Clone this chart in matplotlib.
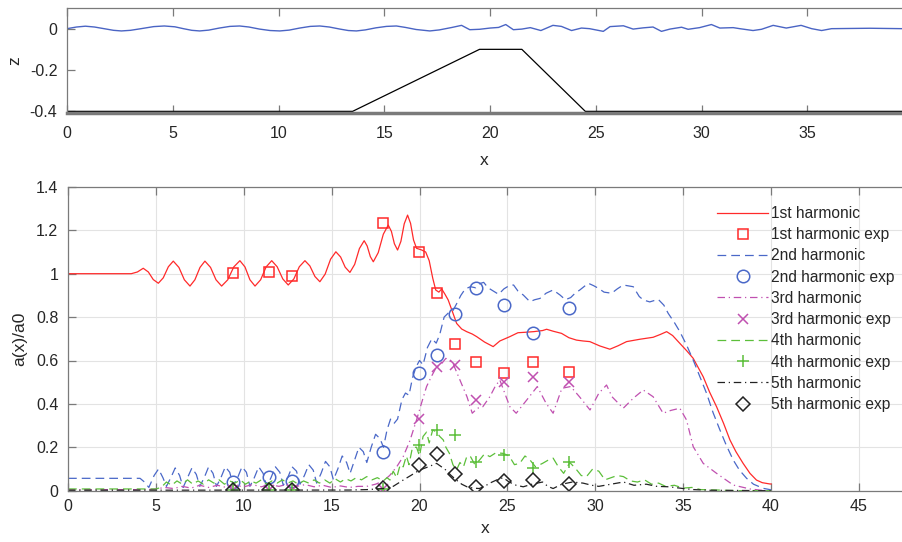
import matplotlib
matplotlib.use("Agg")
import matplotlib.pyplot as plt

plt.rcParams['font.family'] = ['Liberation Sans', 'DejaVu Sans']
plt.rcParams['axes.unicode_minus'] = False

# ---------------- top panel data ----------------
surf_x = [0, 0.45, 0.87, 1.3, 1.75, 2.2, 2.57, 3.0, 3.5, 4.1, 4.6, 5.1, 5.5, 5.9, 6.27, 6.7, 7.2, 7.7,
          8.16, 8.6, 9.1, 9.6, 10.06, 10.5, 11.0, 11.5, 11.95, 12.4, 12.9, 13.3, 13.68, 14.1, 14.6, 15.1,
          15.57, 16.0, 16.5, 17.15, 17.6, 18.2, 18.65, 19.04, 19.5, 20.0, 20.4, 20.74, 21.1, 21.5, 21.9,
          22.4, 22.97, 23.37, 23.85, 24.32, 24.7, 25.35, 25.67, 26.3, 26.76, 27.24, 27.7, 28.1, 28.5,
          29.05, 29.36, 29.9, 30.46, 30.86, 31.49, 31.8, 32.43, 32.83, 33.38, 34.0, 34.7, 35.2, 35.67,
          36.14, 37.0, 37.95, 39.5]
surf_z = [0.0, 0.008, 0.012, 0.008, 0.0, -0.008, -0.011, -0.008, 0.0, 0.01, 0.013, 0.009, 0.0, -0.008,
          -0.011, -0.007, 0.003, 0.011, 0.013, 0.008, -0.002, -0.009, -0.011, -0.007, 0.003, 0.011, 0.013,
          0.008, -0.002, -0.009, -0.011, -0.006, 0.004, 0.011, 0.013, 0.006, -0.004, -0.011, -0.006, 0.006,
          0.016, -0.005, -0.003, 0.003, 0.006, 0.02, -0.005, -0.002, 0.005, -0.009, 0.016, 0.011, -0.009,
          0.003, 0.0, -0.013, 0.01, 0.014, -0.002, 0.004, 0.008, -0.013, -0.002, 0.007, -0.003, 0.005, 0.02,
          0.003, 0.005, 0.0, -0.009, -0.003, 0.016, 0.003, 0.016, 0.0, -0.009, 0.0, 0.001, 0.002, 0.0]
bed_x = [0, 13.5, 19.5, 21.5, 24.5, 39.5]
bed_z = [-0.4, -0.4, -0.1, -0.1, -0.4, -0.4]

# ---------------- bottom panel data ----------------
h1_x = [0, 3.6, 3.95, 4.28, 4.57, 4.85, 5.14, 5.42, 5.71, 5.99, 6.31, 6.62, 6.94, 7.22, 7.51, 7.79, 8.11,
        8.42, 8.74, 9.09, 9.43, 9.78, 10.07, 10.35, 10.64, 10.96, 11.27, 11.59, 11.90, 12.22, 12.53, 12.85,
        13.16, 13.48, 13.76, 14.05, 14.33, 14.63, 14.94, 15.24, 15.51, 15.77, 16.04, 16.31, 16.58, 16.85,
        17.02, 17.20, 17.37, 17.65, 17.94, 18.22, 18.40, 18.57, 18.75, 18.94, 19.13, 19.32, 19.49, 19.66,
        19.83, 20.1, 20.35, 20.55, 20.75, 20.92, 21.1, 21.26, 21.45, 21.63, 21.85, 22.11, 22.4, 22.68, 23.0,
        23.25, 23.7, 24.19, 24.57, 25.14, 25.6, 26.0, 26.5, 27.0, 27.23, 27.6, 28.08, 28.5, 28.93, 29.3,
        29.69, 30.26, 30.83, 31.3, 31.78, 32.54, 33.29, 33.7, 34.06, 34.4, 34.81, 35.2, 35.57, 36.14, 36.5,
        36.9, 37.3, 37.66, 38.0, 38.41, 38.8, 39.17, 39.5, 39.93, 40.0]
h1_a = [1.0, 1.0, 1.008, 1.025, 1.008, 0.973, 0.956, 0.981, 1.032, 1.058, 1.029, 0.972, 0.943, 0.972, 1.029,
        1.058, 1.029, 0.972, 0.943, 0.972, 1.031, 1.06, 1.031, 0.972, 0.943, 0.972, 1.031, 1.06, 1.032, 0.976,
        0.948, 0.976, 1.032, 1.06, 1.036, 0.987, 0.963, 0.998, 1.067, 1.101, 1.077, 1.030, 1.006, 1.043, 1.116,
        1.152, 1.128, 1.079, 1.055, 1.097, 1.182, 1.224, 1.195, 1.138, 1.109, 1.149, 1.23, 1.27, 1.232, 1.155,
        1.117, 1.11, 1.10, 1.06, 0.98, 0.925, 0.915, 0.93, 0.905, 0.879, 0.83, 0.771, 0.745, 0.733, 0.722,
        0.71, 0.685, 0.664, 0.69, 0.71, 0.728, 0.73, 0.733, 0.738, 0.744, 0.735, 0.725, 0.705, 0.694, 0.69,
        0.687, 0.667, 0.652, 0.668, 0.687, 0.698, 0.707, 0.72, 0.733, 0.715, 0.679, 0.645, 0.61, 0.525, 0.455,
        0.387, 0.31, 0.234, 0.18, 0.126, 0.08, 0.049, 0.037, 0.031, 0.031]

h2_x = [0, 4.1, 4.35, 4.6, 4.9, 5.15, 5.4, 5.6, 5.85, 6.1, 6.35, 6.55, 6.8, 7.05, 7.3, 7.5, 7.75, 8.0, 8.25,
        8.45, 8.7, 8.95, 9.2, 9.4, 9.65, 9.9, 10.15, 10.35, 10.6, 10.85, 11.1, 11.3, 11.55, 11.8, 12.05, 12.25,
        12.5, 12.75, 13.0, 13.2, 13.45, 13.7, 13.95, 14.15, 14.4, 14.65, 14.9, 15.1, 15.35, 15.6, 15.85, 16.05,
        16.3, 16.55, 16.8, 17.0, 17.25, 17.5, 17.75, 17.95, 18.15, 18.35, 18.55, 18.75, 19.0, 19.2, 19.4, 19.6,
        19.8, 20.0, 20.2, 20.45, 20.7, 20.95, 21.15, 21.4, 21.65, 21.9, 22.1, 22.35, 22.6, 22.9, 23.2, 23.45,
        23.65, 23.9, 24.2, 24.5, 24.8, 25.1, 25.35, 25.6, 25.9, 26.28, 26.55, 26.85, 27.2, 27.6, 27.99, 28.3,
        28.6, 28.85, 29.12, 29.6, 29.9, 30.17, 30.5, 30.93, 31.25, 31.59, 32.16, 32.5, 32.73, 33.1, 33.58,
        33.9, 34.15, 34.5, 34.81, 35.2, 35.57, 35.95, 36.33, 36.7, 37.09, 37.45, 37.85, 38.2, 38.61, 39.0,
        39.55, 40.0]
h2_a = [0.057, 0.057, 0.04, 0.015, 0.07, 0.1, 0.06, 0.02, 0.06, 0.105, 0.07, 0.015, 0.06, 0.105, 0.075, 0.02,
        0.06, 0.11, 0.08, 0.02, 0.06, 0.11, 0.085, 0.025, 0.06, 0.11, 0.085, 0.02, 0.06, 0.11, 0.08, 0.02, 0.06,
        0.11, 0.085, 0.025, 0.06, 0.11, 0.09, 0.03, 0.07, 0.12, 0.095, 0.035, 0.08, 0.135, 0.11, 0.05, 0.1,
        0.16, 0.13, 0.08, 0.14, 0.2, 0.18, 0.13, 0.2, 0.26, 0.24, 0.2, 0.28, 0.33, 0.31, 0.33, 0.42, 0.45,
        0.44, 0.52, 0.57, 0.60, 0.58, 0.66, 0.70, 0.68, 0.72, 0.80, 0.82, 0.83, 0.86, 0.90, 0.93, 0.94, 0.935,
        0.955, 0.96, 0.935, 0.92, 0.905, 0.93, 0.945, 0.948, 0.92, 0.902, 0.871, 0.88, 0.886, 0.91, 0.925,
        0.902, 0.88, 0.89, 0.91, 0.925, 0.956, 0.945, 0.933, 0.915, 0.91, 0.93, 0.948, 0.94, 0.895, 0.879,
        0.87, 0.882, 0.855, 0.817, 0.775, 0.733, 0.67, 0.602, 0.525, 0.449, 0.36, 0.28, 0.21, 0.141, 0.095,
        0.057, 0.03, 0.011, 0.004]

h3_x = [0, 4.5, 5.0, 5.5, 6.0, 6.5, 7.0, 7.5, 8.0, 8.5, 9.0, 9.5, 10.0, 10.5, 11.0, 11.5, 12.0, 12.5, 13.0,
        13.5, 14.0, 14.5, 15.0, 15.5, 16.0, 16.5, 17.0, 17.5, 17.94, 18.3, 18.7, 19.07, 19.45, 19.83, 20.1,
        20.4, 20.7, 20.97, 21.25, 21.5, 21.9, 22.3, 22.7, 23.0, 23.3, 23.6, 24.0, 24.3, 24.57, 24.85, 25.14,
        25.5, 26.1, 26.7, 27.2, 27.6, 28.1, 28.6, 29.1, 29.7, 30.2, 30.64, 30.95, 31.59, 32.16, 32.73, 33.29,
        33.86, 34.3, 34.81, 35.19, 35.57, 36.14, 36.9, 37.85, 38.8, 39.7]
h3_a = [0.005, 0.005, 0.008, 0.015, 0.01, 0.02, 0.012, 0.025, 0.015, 0.025, 0.015, 0.025, 0.018, 0.028,
        0.018, 0.028, 0.02, 0.03, 0.02, 0.028, 0.018, 0.025, 0.015, 0.022, 0.015, 0.02, 0.02, 0.03, 0.045,
        0.07, 0.11, 0.157, 0.23, 0.326, 0.40, 0.48, 0.53, 0.571, 0.585, 0.61, 0.587, 0.51, 0.433, 0.357, 0.38,
        0.387, 0.433, 0.48, 0.51, 0.449, 0.387, 0.357, 0.418, 0.48, 0.403, 0.357, 0.472, 0.48, 0.433, 0.372,
        0.449, 0.487, 0.433, 0.38, 0.426, 0.464, 0.433, 0.357, 0.37, 0.38, 0.326, 0.203, 0.126, 0.08, 0.026,
        0.008, 0.0]

h4_x = [0, 5.0, 5.3, 5.6, 5.9, 6.2, 6.5, 6.8, 7.1, 7.4, 7.7, 8.0, 8.3, 8.6, 8.9, 9.2, 9.5, 9.8, 10.1, 10.4,
        10.7, 11.0, 11.3, 11.6, 11.9, 12.2, 12.5, 12.8, 13.1, 13.4, 13.7, 14.0, 14.3, 14.6, 14.9, 15.2, 15.5,
        15.8, 16.1, 16.4, 16.7, 17.0, 17.3, 17.6, 17.94, 18.15, 18.32, 18.5, 18.7, 18.9, 19.07, 19.25, 19.4,
        19.6, 19.83, 20.0, 20.2, 20.4, 20.55, 20.75, 20.97, 21.15, 21.35, 21.5, 21.7, 21.9, 22.1, 22.3, 22.5,
        22.7, 22.9, 23.15, 23.4, 23.7, 24.0, 24.35, 24.76, 25.1, 25.4, 25.7, 26.0, 26.3, 26.6, 27.0, 27.3,
        27.6, 27.9, 28.2, 28.55, 28.9, 29.2, 29.5, 29.85, 30.2, 30.55, 30.9, 31.25, 31.6, 32.0, 32.4, 32.8,
        33.2, 33.6, 34.0, 34.5, 35.0, 35.5, 36.0, 37.0, 38.0, 40.0]
h4_a = [0.008, 0.008, 0.015, 0.04, 0.025, 0.045, 0.03, 0.05, 0.03, 0.045, 0.03, 0.05, 0.035, 0.05, 0.03,
        0.045, 0.035, 0.05, 0.03, 0.045, 0.035, 0.05, 0.03, 0.045, 0.035, 0.05, 0.035, 0.045, 0.03, 0.045,
        0.035, 0.05, 0.035, 0.05, 0.035, 0.055, 0.04, 0.055, 0.045, 0.06, 0.05, 0.065, 0.05, 0.06, 0.045, 0.06,
        0.049, 0.09, 0.06, 0.12, 0.11, 0.16, 0.12, 0.2, 0.2, 0.16, 0.25, 0.27, 0.22, 0.28, 0.27, 0.25, 0.234,
        0.2, 0.172, 0.12, 0.095, 0.13, 0.11, 0.16, 0.157, 0.12, 0.14, 0.17, 0.157, 0.175, 0.172, 0.16, 0.12,
        0.126, 0.16, 0.14, 0.11, 0.126, 0.14, 0.15, 0.11, 0.08, 0.13, 0.1, 0.07, 0.065, 0.1, 0.09, 0.05, 0.06,
        0.07, 0.065, 0.045, 0.04, 0.05, 0.03, 0.035, 0.02, 0.025, 0.012, 0.015, 0.005, 0.003, 0.0, 0.0]

h5_x = [0, 16.0, 17.0, 17.94, 18.5, 19.07, 19.5, 20.0, 20.5, 20.97, 21.25, 21.5, 21.8, 22.1, 22.4, 22.7,
        23.05, 23.4, 23.7, 24.0, 24.4, 24.76, 25.1, 25.5, 25.9, 26.4, 27.0, 27.3, 27.6, 28.1, 28.7, 29.3,
        29.8, 30.2, 30.9, 31.6, 32.2, 32.9, 33.5, 34.2, 35.0, 35.6, 36.5, 40.0]
h5_a = [0.002, 0.003, 0.005, 0.01, 0.02, 0.049, 0.07, 0.095, 0.11, 0.126, 0.11, 0.095, 0.07, 0.049, 0.03,
        0.018, 0.012, 0.01, 0.02, 0.035, 0.05, 0.06, 0.04, 0.025, 0.018, 0.03, 0.04, 0.02, 0.01, 0.03, 0.04,
        0.035, 0.025, 0.02, 0.03, 0.04, 0.025, 0.03, 0.02, 0.018, 0.01, 0.005, 0.002, 0.0]

exp_x = [9.4, 11.45, 12.75, 17.95, 19.97, 21.0, 22.0, 23.2, 24.8, 26.47, 28.5]
exp1 = [1.005, 1.009, 0.99, 1.232, 1.10, 0.91, 0.676, 0.595, 0.541, 0.595, 0.548]
exp2 = [0.042, 0.062, 0.045, 0.177, 0.541, 0.625, 0.815, 0.935, 0.856, 0.725, 0.843]
exp3 = [0.005, 0.005, 0.005, 0.01, 0.329, 0.571, 0.579, 0.418, 0.502, 0.522, 0.50]
exp4 = [0.005, 0.005, 0.005, 0.01, 0.21, 0.28, 0.257, 0.134, 0.164, 0.103, 0.134]
exp5 = [0.003, 0.003, 0.003, 0.011, 0.118, 0.169, 0.077, 0.016, 0.045, 0.049, 0.029]

labels = ['1st harmonic', '1st harmonic exp', '2nd harmonic', '2nd harmonic exp',
          '3rd harmonic', '3rd harmonic exp', '4th harmonic', '4th harmonic exp',
          '5th harmonic', '5th harmonic exp']

# ---------------- figure ----------------
W, H = 902, 542
fig = plt.figure(figsize=(W / 100, H / 100), dpi=100)

txt = '#262626'
spc = '#7a7a7a'

def style(ax):
    for s in ax.spines.values():
        s.set_color(spc)
        s.set_linewidth(0.9)
    ax.tick_params(direction='in', length=6, width=0.9, color=spc, labelcolor=txt,
                   labelsize=11.5, top=True, right=False)

# top panel
ax1 = fig.add_axes([67 / W, 1 - 113 / H, 1 - 67 / W, (113 - 8) / H])
ax1.plot(surf_x, surf_z, color='#4a64c4', lw=1.0)
ax1.plot(bed_x, bed_z, color='black', lw=0.9)
ax1.set_xlim(0, 39.47)
ax1.set_ylim(-0.408, 0.1)
ax1.set_xticks([0, 5, 10, 15, 20, 25, 30, 35])
ax1.set_yticks([-0.4, -0.2, 0])
ax1.set_yticklabels(['-0.4', '-0.2', '0'])
style(ax1)
ax1.spines['right'].set_visible(False)
ax1.spines['bottom'].set_linewidth(2.5)
ax1.tick_params(axis='x', pad=9)
ax1.tick_params(axis='y', pad=7)
ax1.set_xlabel('x', fontsize=12.5, color=txt, labelpad=9)
ax1.set_ylabel('z', fontsize=12.5, color=txt, labelpad=5)

# bottom panel
ax2 = fig.add_axes([68 / W, 1 - 490.7 / H, 1 - 68 / W, (490.7 - 186.9) / H])
ax2.grid(True, color='#e3e3e3', lw=0.8)
ax2.set_axisbelow(True)

c1, c2, c3, c4, c5 = '#ff2a2a', '#4a68c8', '#c050b0', '#5cbf3a', '#222222'
l1, = ax2.plot(h1_x, h1_a, color=c1, lw=0.9)
m1, = ax2.plot(exp_x, exp1, ls='none', marker='s', ms=7, mfc='none', mec=c1, mew=1.1)
l2, = ax2.plot(h2_x, h2_a, color=c2, lw=0.9, dashes=(7, 4))
m2, = ax2.plot(exp_x, exp2, ls='none', marker='o', ms=9, mfc='none', mec=c2, mew=1.1)
l3, = ax2.plot(h3_x, h3_a, color=c3, lw=0.9, dashes=(6, 3, 1, 3))
m3, = ax2.plot(exp_x, exp3, ls='none', marker='x', ms=7, mec=c3, mew=1.1)
l4, = ax2.plot(h4_x, h4_a, color=c4, lw=0.9, dashes=(7, 4))
m4, = ax2.plot(exp_x, exp4, ls='none', marker='+', ms=9, mec=c4, mew=1.1)
l5, = ax2.plot(h5_x, h5_a, color=c5, lw=0.9, dashes=(6, 3, 1, 3))
m5, = ax2.plot(exp_x, exp5, ls='none', marker='D', ms=7, mfc='none', mec=c5, mew=1.1)

ax2.set_xlim(0, 47.45)
ax2.set_ylim(0, 1.4)
ax2.set_xticks([0, 5, 10, 15, 20, 25, 30, 35, 40, 45])
ax2.set_yticks([0, 0.2, 0.4, 0.6, 0.8, 1.0, 1.2, 1.4])
ax2.set_yticklabels(['0', '0.2', '0.4', '0.6', '0.8', '1', '1.2', '1.4'])
style(ax2)
ax2.spines['right'].set_visible(False)
ax2.tick_params(axis='x', pad=6)
ax2.tick_params(axis='y', pad=7)
ax2.set_xlabel('x', fontsize=12.5, color=txt, labelpad=5)
ax2.set_ylabel('a(x)/a0', fontsize=12.5, color=txt, labelpad=6)

leg = ax2.legend([l1, m1, l2, m2, l3, m3, l4, m4, l5, m5], labels,
                 loc='upper left', bbox_to_anchor=(717 / W, 1 - 206 / H),
                 bbox_transform=fig.transFigure, frameon=False, fontsize=11.2,
                 handlelength=3.3, handletextpad=0.15, labelspacing=0.4, borderpad=0,
                 borderaxespad=0)
for t in leg.get_texts():
    t.set_color(txt)

fig.savefig('out.png', dpi=100)
